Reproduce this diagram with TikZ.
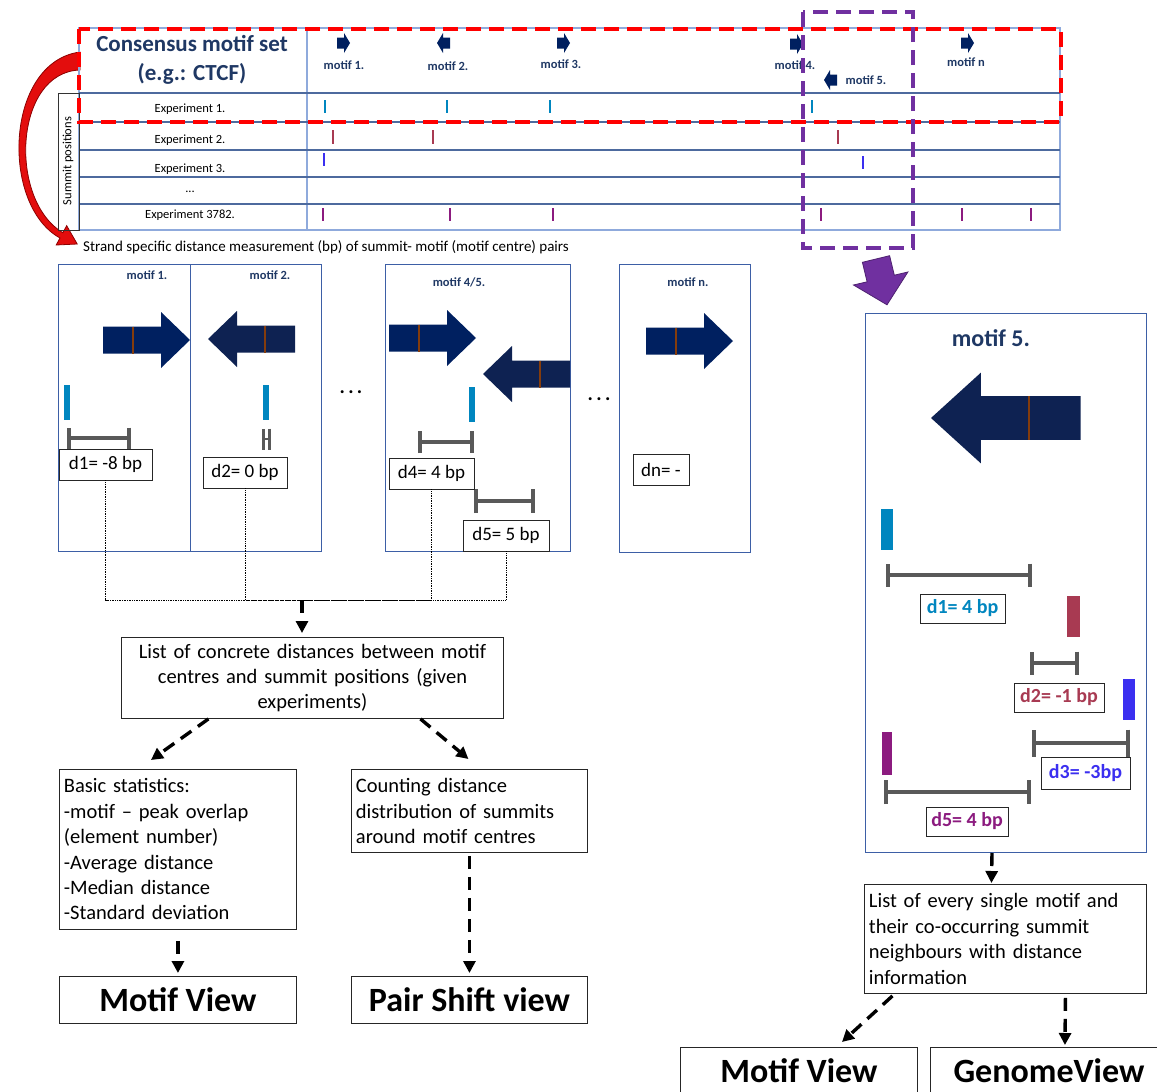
\documentclass[tikz,border=0pt]{standalone}
\usepackage{fontspec}
\setmainfont{Carlito}
\usetikzlibrary{arrows.meta,calc}

\definecolor{navytext}{HTML}{1F3864}
\definecolor{arrowR}{HTML}{002060}
\definecolor{arrowL}{HTML}{0E2252}
\definecolor{brownline}{HTML}{843C0C}
\definecolor{summitA}{HTML}{0086BF}
\definecolor{summitB}{HTML}{A83A52}
\definecolor{summitC}{HTML}{3B2FF0}
\definecolor{summitD}{HTML}{8C1B7F}
\definecolor{rulergray}{HTML}{595959}
\definecolor{tableframe}{HTML}{8FAADC}
\definecolor{tableline}{HTML}{4D6A9E}
\definecolor{panelblue}{HTML}{3D5FA6}
\definecolor{hilitered}{HTML}{FF0000}
\definecolor{hilitepurple}{HTML}{7030A0}
\definecolor{curvered}{HTML}{E30D0D}

\begin{document}
\begin{tikzpicture}[x=1pt, y=-1pt,
	box/.style={rectangle, draw=black!85, line width=0.9pt, fill=white, inner sep=0pt},
	textbox/.style={box, anchor=north west, align=left, inner xsep=4.5pt, font=\fontsize{20.5}{25.4}\selectfont},
	viewbox/.style={box, anchor=north west, minimum width=237pt, minimum height=47pt, font=\bfseries\fontsize{34}{40}\selectfont},
	distbox/.style={box, minimum height=31pt, font=\fontsize{19}{22}\selectfont},
	colbox/.style={box, minimum height=29pt, font=\bfseries\fontsize{20}{22}\selectfont},
	panel/.style={rectangle, draw=panelblue, line width=1pt, inner sep=0pt, anchor=north west},
	motiflabel/.style={font=\bfseries\fontsize{12.5}{14}\selectfont, text=navytext, inner sep=0pt},
	explabel/.style={font=\fontsize{12.5}{14}\selectfont, inner sep=0pt},
	dotslabel/.style={font=\bfseries\fontsize{20}{22}\selectfont, inner sep=0pt},
	summit/.style={line width=2.6pt},
	ruler/.style={draw=rulergray, line width=3.6pt, arrows={Bar[width=#1]-Bar[width=#1]}},
	flow/.style={line width=3.4pt, dash pattern=on 13pt off 8pt, arrows={-Triangle[length=12pt,width=12pt]}},
	dotline/.style={densely dotted, line width=0.7pt},
	hilite/.style={line width=4.2pt, dash pattern=on 15pt off 8pt},
	motifarrow/.pic={
		\fill[#1] (-87,-13.5) -- (-29,-13.5) -- (-29,-28) -- (0,0) -- (-29,28) -- (-29,13.5) -- (-87,13.5) -- cycle;
		\draw[brownline, line width=2.4pt] (-57,-13.5) -- (-57,13.5);},
	headarrow/.pic={
		\fill[arrowR] (-13,-5.5) -- (-6,-5.5) -- (-6,-10) -- (0,0) -- (-6,10) -- (-6,5.5) -- (-13,5.5) -- cycle;}]
	
	\useasboundingbox (0,0) rectangle (1157,1092);
	\clip (0,0) rectangle (1157,1092);
	
	%Curved and block arrows
	\fill[curvered, draw=red!55!black, line width=0.8pt] (80,52) .. controls (5,62) and (0,205) .. (60,238) -- (56.2,245) -- (77.2,244) -- (66.7,225.7) -- (62.9,232.7) .. controls (8,200) and (14,72) .. (80,70) -- cycle;
	\fill[hilitepurple, draw=hilitepurple!70!black, line width=0.8pt] (862.4,262.3) -- (889.6,255.7) -- (894.3,275.2) -- (907.9,272) -- (887,304.8) -- (853.5,285) -- (867.1,281.8) -- cycle;
	
	%Table
	\draw[tableframe, line width=1.2pt] (79,28) rectangle (1060,230);
	\draw[tableframe, line width=1.2pt] (307,28) -- (307,230);
	\draw[tableline, line width=1.5pt] (79,93) -- (1060,93);
	\draw[tableline, line width=1.5pt] (79,122) -- (1060,122);
	\draw[tableline, line width=1.5pt] (79,150) -- (1060,150);
	\draw[tableline, line width=1.5pt] (79,177) -- (1060,177);
	\draw[tableline, line width=1.5pt] (79,204) -- (1060,204);
	\draw[black!80, line width=0.8pt] (58,93) rectangle (79,230);
	
	%Summits
	\draw[summit, summitA] (325,100) -- (325,113);
	\draw[summit, summitA] (447,100) -- (447,113);
	\draw[summit, summitA] (550,100) -- (550,113);
	\draw[summit, summitA] (812,100) -- (812,113);
	\draw[summit, summitB] (333,130) -- (333,144);
	\draw[summit, summitB] (433,130) -- (433,144);
	\draw[summit, summitB] (838,130) -- (838,144);
	\draw[summit, summitC] (324,153) -- (324,166);
	\draw[summit, summitC] (863,156) -- (863,169);
	\draw[summit, summitD] (323,208) -- (323,221);
	\draw[summit, summitD] (450,208) -- (450,221);
	\draw[summit, summitD] (553,208) -- (553,221);
	\draw[summit, summitD] (821,208) -- (821,221);
	\draw[summit, summitD] (962,208) -- (962,221);
	\draw[summit, summitD] (1031,208) -- (1031,221);
	
	\pic at (350,43) {headarrow};
	\pic[xscale=-1] at (437,43) {headarrow};
	\pic at (570,43) {headarrow};
	\pic at (803,44) {headarrow};
	\pic[xscale=-1] at (824,80) {headarrow};
	\pic at (974,43) {headarrow};
	
	%Table labels
	\node[font=\bfseries\fontsize{23}{29}\selectfont, text=navytext, align=center] (consensus) at (192,60) {Consensus motif set\\(e.g.: CTCF)};
	\node[motiflabel] (hm1) at (344,65) {motif 1.};
	\node[motiflabel] (hm2) at (448,66) {motif 2.};
	\node[motiflabel] (hm3) at (561,64) {motif 3.};
	\node[motiflabel] (hm4) at (795,65) {motif 4.};
	\node[motiflabel] (hm5) at (866,80) {motif 5.};
	\node[motiflabel] (hmn) at (966,62) {motif n};
	\node[explabel] (exp1) at (190,109) {Experiment 1.};
	\node[explabel] (exp2) at (190,140) {Experiment 2.};
	\node[explabel] (exp3) at (190,169) {Experiment 3.};
	\node[explabel] (expdots) at (190,192) {...};
	\node[explabel] (exp3782) at (190,215) {Experiment 3782.};
	\node[explabel, rotate=90] (summitpos) at (68,161) {Summit positions};
	
	%Highlights
	\draw[hilite, hilitered] (79,29) rectangle (1061,122);
	\draw[hilite, hilitepurple] (803,12) rectangle (913,248);
	
	\node[anchor=west, font=\fontsize{15}{17}\selectfont, inner sep=0pt] (strand) at (83,247) {Strand specific distance measurement (bp) of summit- motif (motif centre) pairs};
	
	%Panels
	\node[panel, minimum width=132pt, minimum height=287pt] (panel1) at (58,264) {};
	\node[panel, minimum width=131pt, minimum height=287pt] (panel2) at (190,264) {};
	\node[panel, minimum width=185pt, minimum height=287pt] (panel45) at (385,264) {};
	\node[panel, minimum width=131pt, minimum height=288pt] (paneln) at (619,264) {};
	\node[motiflabel] (pm1) at (147,275) {motif 1.};
	\node[motiflabel] (pm2) at (270,275) {motif 2.};
	\node[motiflabel] (pm45) at (459,282) {motif 4/5.};
	\node[motiflabel] (pmn) at (688,282) {motif n.};
	
	\pic at (190,340) {motifarrow=arrowR};
	\pic[xscale=-1] at (208,339) {motifarrow=arrowL};
	\pic at (476,338) {motifarrow=arrowR};
	\pic[xscale=-1] at (483,374) {motifarrow=arrowL};
	\pic at (733,341) {motifarrow=arrowR};
	
	\fill[summitA] (64,385) rectangle (70,420);
	\fill[summitA] (263,385) rectangle (269,420);
	\fill[summitA] (469,387) rectangle (475,422);
	
	\draw[ruler=21pt] (67,438) -- (131,438);
	\draw[ruler=21pt, line width=2.8pt] (262,439) -- (271,439);
	\draw[ruler=22pt] (418,442) -- (474,442);
	\draw[ruler=24pt] (474,501) -- (535,501);
	
	\node[dotslabel] (dotsa) at (351,392) {.\,.\,.};
	\node[dotslabel] (dotsb) at (599,399) {.\,.\,.};
	
	\node[distbox, minimum width=93pt] (d1) at (105.5,464.5) {d1= -8 bp};
	\node[distbox, minimum width=84pt] (d2) at (245,472.5) {d2= 0 bp};
	\node[distbox, minimum width=85pt] (d4) at (431.5,473.5) {d4= 4 bp};
	\node[distbox, minimum width=86pt] (d5) at (506,535.5) {d5= 5 bp};
	\node[distbox, minimum width=56pt] (dn) at (661,469.5) {dn= -};
	
	%Flow nodes
	\node[textbox, align=center, text width=373pt, minimum height=81pt] (list) at (121,637) {List of concrete distances between motif\\centres and summit positions (given\\experiments)};
	\node[textbox, text width=228pt, minimum height=160pt] (stats) at (59,769) {Basic statistics:\\-motif – peak overlap\\(element number)\\-Average distance\\-Median distance\\-Standard deviation};
	\node[textbox, text width=227pt, minimum height=83pt] (counting) at (351,769) {Counting distance\\distribution of summits\\around motif centres};
	\node[viewbox] (motifview) at (59,976) {Motif View};
	\node[viewbox, minimum width=236pt] (pairview) at (351,976) {Pair Shift view};
	
	%Motif 5 panel
	\node[panel, minimum width=281pt, minimum height=539pt] (panel5) at (865,313) {};
	\node[motiflabel, font=\bfseries\fontsize{24}{26}\selectfont] (m5lab) at (991,338) {motif 5.};
	\pic[xscale=-1.72, yscale=1.62] at (931,418) {motifarrow=arrowL};
	
	\fill[summitA] (881,509) rectangle (893,550);
	\fill[summitB] (1067,596) rectangle (1080,637);
	\fill[summitC] (1123,679) rectangle (1135,720);
	\fill[summitD] (882,732) rectangle (892,775);
	
	\draw[ruler=23pt] (886,575) -- (1032,575);
	\draw[ruler=23pt] (1030,663) -- (1079,663);
	\draw[ruler=27pt] (1032,743) -- (1130,743);
	\draw[ruler=24pt] (884,792) -- (1031,792);
	
	\node[colbox, minimum width=85pt, text=summitA] (rd1) at (962.5,608.5) {d1= 4 bp};
	\node[colbox, minimum width=90pt, text=summitB] (rd2) at (1059,697.5) {d2= -1 bp};
	\node[colbox, minimum width=89pt, minimum height=32pt, text=summitC] (rd3) at (1085.5,773) {d3= -3bp};
	\node[colbox, minimum width=82pt, text=summitD] (rd5) at (967,821.5) {d5= 4 bp};
	
	\node[textbox, text width=273pt, minimum height=109pt] (neigh) at (864,884) {List of every single motif and\\their co-occurring summit\\neighbours with distance\\information};
	\node[viewbox] (motifview2) at (680,1047) {Motif View};
	\node[viewbox] (genomeview) at (930,1047) {GenomeView};
	
	%Lines
	\coordinate (merge) at (302,600);
	\draw[dotline] (d1.south) |- (merge);
	\draw[dotline] (d2.south) |- (merge);
	\draw[dotline] (d4.south) |- (merge);
	\draw[dotline] (d5.south) |- (merge);
	\draw[flow, shorten >=4pt] (merge) -- (merge |- list.north);
	\draw[flow] ($(list.south)+(-104,0)$) -- ($(stats.north)+(-27,-9)$);
	\draw[flow] ($(list.south)+(108,0)$) -- ($(counting.north)+(-1,-10)$);
	\draw[flow] ($(stats.south)+(0,11)$) -- ($(motifview.north)+(0,-3)$);
	\draw[flow] ($(counting.south)+(0,3)$) -- ($(pairview.north)+(0,-3)$);
	\draw[flow] ($(panel5.south)+(-14,0)$) -- ($(neigh.north)+(-14,-1)$);
	\draw[flow] ($(neigh.south)+(-113,2)$) -- ($(motifview2.north)+(43,-5)$);
	\draw[flow] ($(neigh.south)+(60,4)$) -- ($(genomeview.north)+(16,-2)$);
\end{tikzpicture}
\end{document}
